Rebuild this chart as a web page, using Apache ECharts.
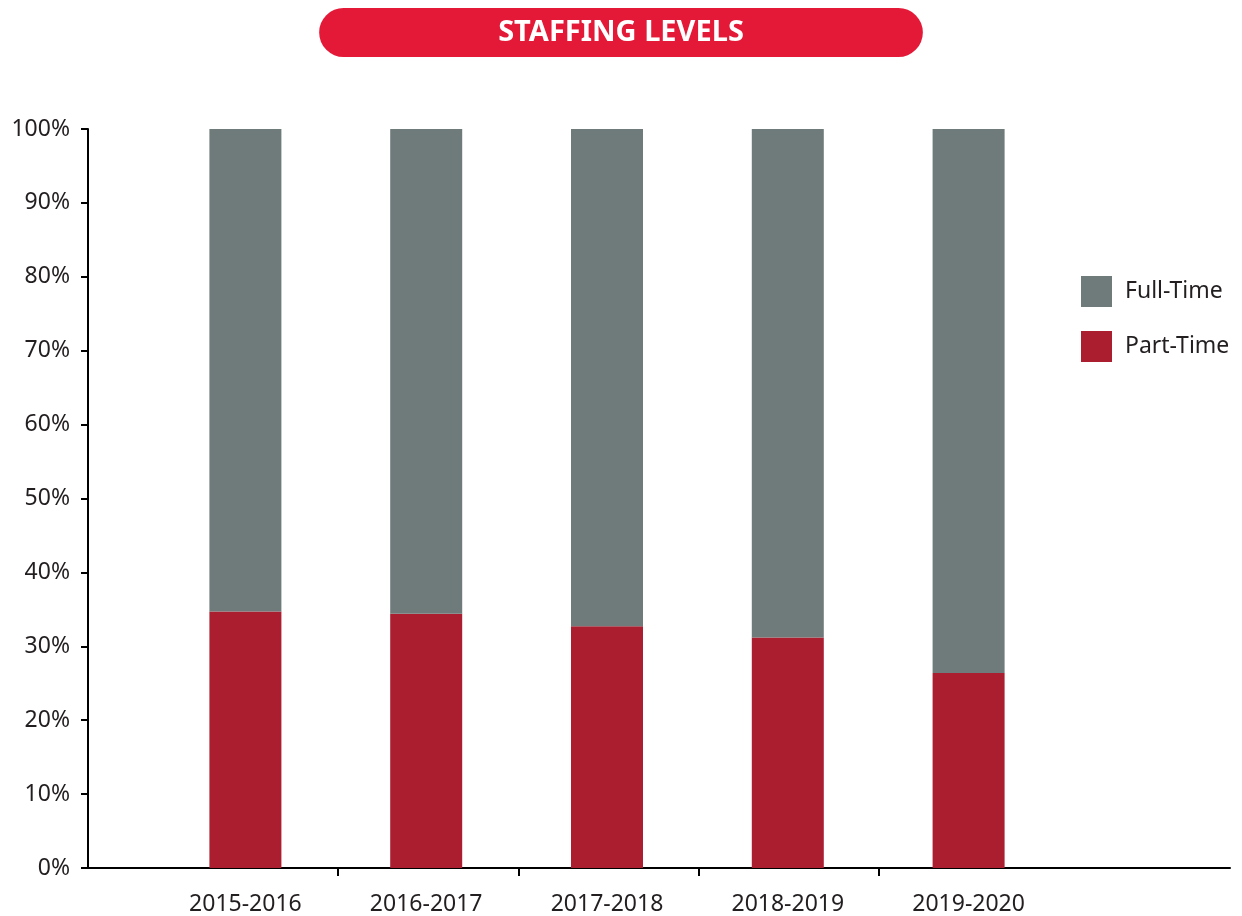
<!DOCTYPE html>
<html lang="en">
<head>
    <meta charset="UTF-8">
    <title>Staffing Levels</title>
    <script src="https://cdn.jsdelivr.net/npm/echarts@6/dist/echarts.min.js"></script>
    <style>
        html, body {
            margin: 0;
            padding: 0;
            background: #fff;
        }

        #chart {
            width: 1242px;
            height: 916px;
        }
    </style>
</head>
<body>
<div id="chart"></div>
<script type="text/javascript">
    // school years on the x axis
    var years = ['2015-2016', '2016-2017', '2017-2018', '2018-2019', '2019-2020'];
    // share of staff in percent
    var partTime = [34.7, 34.4, 32.7, 31.2, 26.4];
    var fullTime = [65.3, 65.6, 67.3, 68.8, 73.6];

    var textColor = '#231f20';
    var fontName = 'Noto Sans';

    var myChart = echarts.init(document.getElementById('chart'));

    var option = {
        backgroundColor: '#fff',
        animation: false,
        title: {
            text: 'STAFFING LEVELS',
            left: 'center',
            top: 8,
            backgroundColor: '#e31937',
            borderRadius: 25,
            padding: [0, 179],
            textStyle: {
                color: '#fff',
                fontFamily: fontName,
                fontWeight: 'bold',
                fontSize: 29,
                lineHeight: 49
            }
        },
        legend: {
            orient: 'vertical',
            left: 1076,
            top: 271,
            itemWidth: 31,
            itemHeight: 31,
            itemGap: 24,
            icon: 'rect',
            data: ['Full-Time', 'Part-Time'],
            textStyle: {
                color: textColor,
                fontFamily: fontName,
                fontSize: 23,
                padding: [0, 0, 0, 8]
            }
        },
        // grid 0: frame and y axis, grid 1: bars, grid 2: ticks between the years
        grid: [
            {left: 88, right: 12, top: 129, bottom: 48},
            {left: 155, width: 904, top: 129, bottom: 48},
            {left: 338, width: 541, top: 129, bottom: 48}
        ],
        xAxis: [
            {
                type: 'value',
                gridIndex: 0,
                min: 0,
                max: 1,
                axisLine: {show: true, lineStyle: {color: '#000', width: 2}},
                axisTick: {show: false},
                axisLabel: {show: false},
                splitLine: {show: false}
            },
            {
                type: 'category',
                gridIndex: 1,
                data: years,
                axisLine: {show: false},
                axisTick: {show: false},
                axisLabel: {
                    color: textColor,
                    fontFamily: fontName,
                    fontSize: 23,
                    margin: 25
                }
            },
            {
                type: 'category',
                gridIndex: 2,
                data: years.slice(1, 4),
                axisLine: {show: false},
                axisTick: {show: true, length: 8, lineStyle: {color: '#000', width: 2}},
                axisLabel: {show: false}
            }
        ],
        yAxis: [
            {
                type: 'value',
                gridIndex: 0,
                min: 0,
                max: 100,
                interval: 10,
                axisLine: {show: true, lineStyle: {color: '#000', width: 2}},
                axisTick: {show: true, length: 7, lineStyle: {color: '#000', width: 2}},
                axisLabel: {
                    formatter: '{value}%',
                    color: textColor,
                    fontFamily: fontName,
                    fontSize: 23,
                    margin: 18
                },
                splitLine: {show: false}
            },
            {
                type: 'value',
                gridIndex: 1,
                min: 0,
                max: 100,
                show: false
            },
            {
                type: 'value',
                gridIndex: 2,
                min: 0,
                max: 100,
                show: false
            }
        ],
        series: [
            {
                name: 'Part-Time',
                type: 'bar',
                stack: 'staff',
                xAxisIndex: 1,
                yAxisIndex: 1,
                barWidth: 72,
                itemStyle: {color: '#ab1e2f'},
                data: partTime
            },
            {
                name: 'Full-Time',
                type: 'bar',
                stack: 'staff',
                xAxisIndex: 1,
                yAxisIndex: 1,
                barWidth: 72,
                itemStyle: {color: '#6e7b7a'},
                data: fullTime
            }
        ]
    };
    myChart.setOption(option);
</script>
</body>
</html>
